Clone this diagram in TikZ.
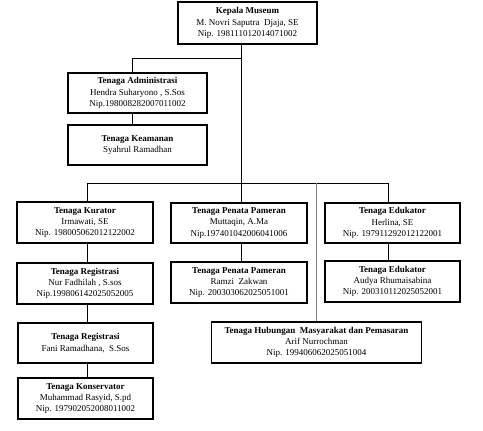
\documentclass[tikz,border=0pt]{standalone}
\usepackage{fontspec}
\setmainfont{Liberation Serif}
\begin{document}
\begin{tikzpicture}[x=1pt,y=-1pt,
  box/.style={draw, line width=1.5pt, rectangle, inner sep=0pt, align=center,
    font=\fontsize{9}{11.3}\selectfont, minimum height=41pt},
  conn/.style={line width=0.8pt},
  grayconn/.style={line width=0.8pt, draw=black!50}]
\useasboundingbox (0,0) rectangle (483,431);
\node[box, minimum width=139pt, minimum height=42pt] (top) at (247.5,23)
  {\textbf{Kepala Museum}\\M. Novri Saputra\ \ Djaja, SE\\Nip. 198111012014071002};
\node[box, minimum width=139pt, minimum height=40pt] (adm) at (137.5,93)
  {\textbf{Tenaga Administrasi}\\ Hendra Suharyono , S.Sos\\Nip.198008282007011002};
\node[box, minimum width=139pt, minimum height=40pt] (kea) at (137.5,145)
  {\textbf{Tenaga Keamanan}\\Syahrul Ramadhan};
\node[box, minimum width=136pt] (kur) at (85,222.5)
  {\textbf{Tenaga Kurator}\\ Irmawati, SE\\Nip. 198005062012122002};
\node[box, minimum width=136pt] (reg1) at (85,283.5)
  {\textbf{Tenaga Registrasi}\\Nur Fadhilah , S.sos\\Nip.199806142025052005};
\node[box, minimum width=135pt, minimum height=40pt] (reg2) at (85.5,343)
  {\textbf{Tenaga Registrasi}\\Fani Ramadhana,\ \ S.Sos};
\node[box, minimum width=135pt] (kons) at (85.5,398.5)
  {\textbf{Tenaga Konservator}\\Muhammad Rasyid, S.pd\\Nip. 197902052008011002};
\node[box, minimum width=136pt, minimum height=40pt] (pen1) at (239,223)
  {\textbf{Tenaga Penata Pameran}\\Muttaqin, A.Ma\\Nip.197401042006041006};
\node[box, minimum width=136pt] (pen2) at (239,282.5)
  {\textbf{Tenaga Penata Pameran}\\Ramzi\ \ Zakwan\\Nip. 200303062025051001};
\node[box, minimum width=135pt, minimum height=40pt] (edu1) at (392.5,223)
  {\textbf{Tenaga Edukator}\\Herlina, SE\\Nip. 197911292012122001};
\node[box, minimum width=135pt] (edu2) at (392.5,281.5)
  {\textbf{Tenaga Edukator}\\Audya Rhumaisabina\\Nip. 200310112025052001};
\node[box, minimum width=210pt] (hum) at (316.5,342.5)
  {\textbf{Tenaga Hubungan\ \ Masyarakat dan Pemasaran}\\Arif Nurrochman\\Nip. 199406062025051004};
% connector coordinates
\coordinate (mainbus) at (241,183);
\coordinate (admbus) at (241,58);
\coordinate (c1) at (87,183);
\coordinate (c3) at (388,183);
\coordinate (ca) at (132.5,58);
% main line
\draw[conn] (top.south -| mainbus) -- (pen1.north -| mainbus);
\draw[conn] (admbus) -- (ca) -- (adm.north -| ca);
\draw[conn] (adm.south -| ca) -- (kea.north -| ca);
\draw[conn] (c1) -- (c3);
\draw[conn] (c1) -- (kur.north -| c1);
\draw[conn] (c3) -- (edu1.north -| c3);
\draw[grayconn] (hum.north |- mainbus) -- (hum.north);
% column links
\draw[conn] (kur.south -| c1) -- (reg1.north -| c1);
\draw[conn] (reg1.south -| c1) -- (reg2.north -| c1);
\draw[conn] (reg2.south -| c1) -- (kons.north -| c1);
\draw[conn] (pen1.south -| mainbus) -- (pen2.north -| mainbus);
\draw[conn] (edu1.south -| c3) -- (edu2.north -| c3);
\end{tikzpicture}
\end{document}
